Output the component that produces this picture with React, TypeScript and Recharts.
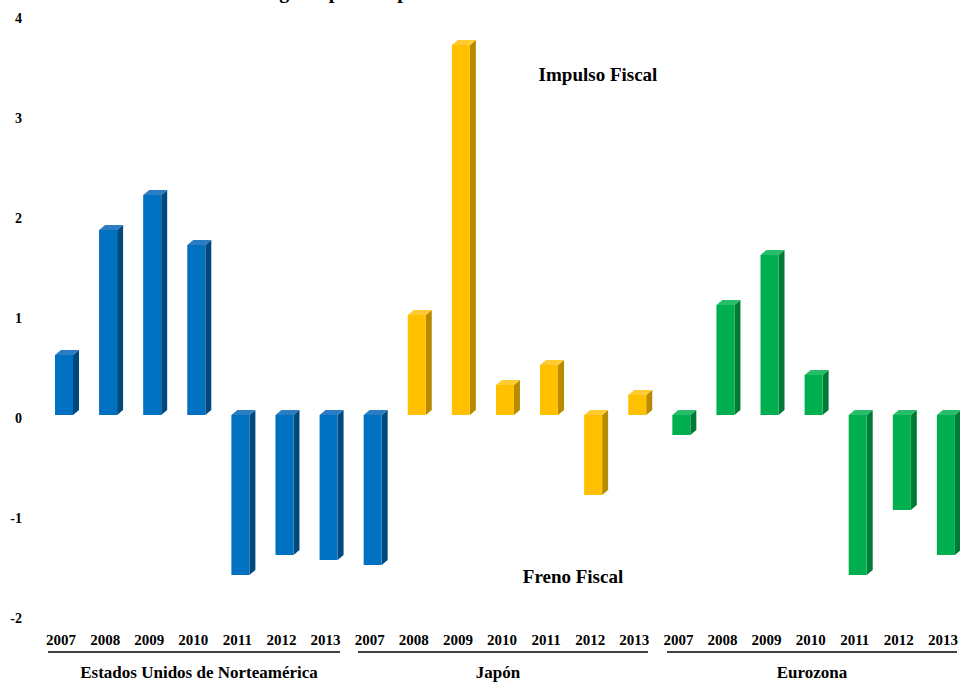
import { BarChart, Bar, XAxis, YAxis } from 'recharts'

const years = ['2007', '2008', '2009', '2010', '2011', '2012', '2013']
const usa = [0.6, 1.85, 2.2, 1.7, -1.6, -1.4, -1.45]
const japan = [-1.5, 1.0, 3.7, 0.3, 0.5, -0.8, 0.2]
const eurozone = [-0.2, 1.1, 1.6, 0.4, -1.6, -0.95, -1.4]
const groups = ['Estados Unidos de Norteamérica', 'Japón', 'Eurozona']
const yTicks = [-2, -1, 0, 1, 2, 3, 4]

const data = [usa, japan, eurozone].flatMap((serie, g) =>
  serie.map((value, i) => ({ id: `${g}-${years[i]}`, year: years[i], value }))
)

const BLUE = { front: '#0070C0', side: '#00497D', top: '#2A7DC2' }
const YELLOW = { front: '#FFC000', side: '#B88A00', top: '#FFCB33' }
const GREEN = { front: '#00B050', side: '#007A37', top: '#27BE69' }

// in the source the first Japan bar (2007) is still drawn in blue
const paletteFor = (i: number) => (i <= 7 ? BLUE : i <= 13 ? YELLOW : GREEN)

const FONT = '"Liberation Serif", "Times New Roman", serif'

function Bar3D(props: any) {
  const { x, y, width, height, index } = props
  const c = paletteFor(index)
  const top = Math.min(y, y + height)
  const h = Math.abs(height)
  const dx = 6
  const dy = 5
  return (
    <g>
      <polygon
        points={`${x + width},${top} ${x + width + dx},${top - dy} ${x + width + dx},${top + h - dy} ${x + width},${top + h}`}
        fill={c.side}
      />
      <polygon
        points={`${x},${top} ${x + dx},${top - dy} ${x + width + dx},${top - dy} ${x + width},${top}`}
        fill={c.top}
      />
      <rect x={x} y={top} width={width} height={h} fill={c.front} />
    </g>
  )
}

function YearTick(props: any) {
  const { x, y, index } = props
  return (
    <text x={x - 3} y={y + 30} textAnchor="middle" fontFamily={FONT} fontWeight="bold" fontSize={15} fill="#000">
      {data[index]?.year}
    </text>
  )
}

function ValueTick(props: any) {
  const { x, y, payload } = props
  return (
    <text x={x - 20} y={y + 3} textAnchor="end" dominantBaseline="central" fontFamily={FONT} fontWeight="bold" fontSize={14} fill="#000">
      {payload.value}
    </text>
  )
}

export default function App() {
  return (
    <div style={{ position: 'absolute', left: 0, top: 0, width: 960, height: 683, overflow: 'hidden', background: '#fff' }}>
      <BarChart width={1000} height={683} data={data} margin={{ top: 15, right: 32, left: 0, bottom: 38 }} barSize={18}>
        <XAxis dataKey="id" interval={0} axisLine={false} tickLine={false} tickSize={0} tickMargin={0} height={30} tick={<YearTick />} />
        <YAxis domain={[-2, 4]} ticks={yTicks} width={42} axisLine={false} tickLine={false} tickSize={0} tickMargin={0} tick={<ValueTick />} />
        <Bar dataKey="value" isAnimationActive={false} shape={(p: any) => <Bar3D {...p} />} />
      </BarChart>
      <svg width={960} height={683} style={{ position: 'absolute', left: 0, top: 0, pointerEvents: 'none' }}>
        <text x={176} y={-2} fontFamily={FONT} fontWeight="bold" fontSize={20} fill="#000">
          Cambio del gasto público primario estructural
        </text>
        <text x={598} y={81} textAnchor="middle" fontFamily={FONT} fontWeight="bold" fontSize={19} fill="#000">
          Impulso Fiscal
        </text>
        <text x={573} y={583} textAnchor="middle" fontFamily={FONT} fontWeight="bold" fontSize={19} fill="#000">
          Freno Fiscal
        </text>
        <line x1={48} x2={340} y1={652} y2={652} stroke="#000" strokeWidth={1.5} />
        <line x1={358} x2={648} y1={652} y2={652} stroke="#000" strokeWidth={1.5} />
        <line x1={667} x2={957} y1={652} y2={652} stroke="#000" strokeWidth={1.5} />
        <text x={199} y={678} textAnchor="middle" fontFamily={FONT} fontWeight="bold" fontSize={17} fill="#000">
          {groups[0]}
        </text>
        <text x={498} y={678} textAnchor="middle" fontFamily={FONT} fontWeight="bold" fontSize={17} fill="#000">
          {groups[1]}
        </text>
        <text x={812} y={678} textAnchor="middle" fontFamily={FONT} fontWeight="bold" fontSize={17} fill="#000">
          {groups[2]}
        </text>
      </svg>
    </div>
  )
}
